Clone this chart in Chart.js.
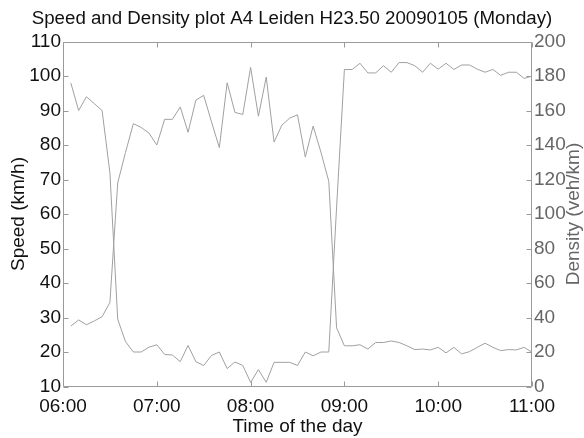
<!DOCTYPE html>
<html><head><meta charset="utf-8">
<style>html,body{margin:0;padding:0;background:#fff}#wrap{width:584px;height:438px;position:relative}</style>
<script src="https://cdn.jsdelivr.net/npm/chart.js@4/dist/chart.umd.min.js"></script>
</head><body><div id="wrap"><canvas id="c"></canvas></div>
<script>
const times = ["06:05","06:10","06:15","06:20","06:25","06:30","06:35","06:40","06:45","06:50","06:55",
"07:00","07:05","07:10","07:15","07:20","07:25","07:30","07:35","07:40","07:45","07:50","07:55",
"08:00","08:05","08:10","08:15","08:20","08:25","08:30","08:35","08:40","08:45","08:50","08:55",
"09:00","09:05","09:10","09:15","09:20","09:25","09:30","09:35","09:40","09:45","09:50","09:55",
"10:00","10:05","10:10","10:15","10:20","10:25","10:30","10:35","10:40","10:45","10:50","10:55",
"11:00"];
const speed = [98,90,94,92,90,72,29.5,23,20,20,21.4,
22.1,19.3,19.1,17.2,21.9,17.2,16.1,19,20,15.2,17.1,16.1,
11.2,14.9,11.2,17,17,17,16.1,20,18.9,20,20,62,
101.9,101.9,103.7,100.9,100.9,103,101.1,103.9,103.9,103,101.1,103.7,
102,103.7,101.9,103.2,103.2,102,101.1,101.9,100.2,101.1,101.1,99.3,
100];
const density = [35,38.6,35.8,38,40.5,48.7,118,135.8,152.4,150.2,146.9,
140,154.9,154.9,162.1,147.4,166,168.8,153.4,138.5,176.1,158.9,157.7,
185,156.7,179.4,141.7,151.5,155.6,157.5,133,151,135.8,119,34,
23.6,23.6,24.2,21.7,25.5,25.5,26.4,25.5,23.6,21.4,21.7,21.2,
22.7,19.5,22.7,18.9,20.2,22.7,25.1,22.7,20.8,21.4,21.2,22.7,
19.9];
const xTickLabels = ["06:00","07:00","08:00","09:00","10:00","11:00"];
const titleText = "Speed and Density plot A4 Leiden H23.50 20090105 (Monday)";
const speedLabel = "Speed (km/h)";
const densityLabel = "Density (veh/km)";
const xLabel = "Time of the day";

const toMin = t => { const p = t.split(':').map(Number); return (p[0]-6)*60 + p[1]; };
const speedPts = times.map((t,i) => ({x: toMin(t), y: speed[i]}));
const densityPts = times.map((t,i) => ({x: toMin(t), y: density[i]}));

const FONT = "'Liberation Sans', Arial, sans-serif";
Chart.defaults.font.family = FONT;
Chart.defaults.font.size = 19;

const framePlugin = {
  id: 'frame',
  afterDatasetsDraw(chart) {
    const {ctx, chartArea: {left, right, top, bottom}, scales: {x, y, y1}} = chart;
    const L = Math.round(left) + 0.5, R = Math.round(right) - 0.5, T = Math.round(top) + 0.5, B = Math.round(bottom) - 0.5;
    ctx.save();
    ctx.strokeStyle = '#9a9a9a';
    ctx.lineWidth = 1;
    ctx.beginPath();
    ctx.rect(L, T, R - L, B - T);
    const tl = 5;
    x.ticks.forEach(t => {
      const p = Math.round(x.getPixelForValue(t.value)) + 0.5;
      ctx.moveTo(p, B); ctx.lineTo(p, B - tl);
      ctx.moveTo(p, T); ctx.lineTo(p, T + tl);
    });
    y.ticks.forEach(t => {
      const p = Math.round(y.getPixelForValue(t.value)) + 0.5;
      ctx.moveTo(L, p); ctx.lineTo(L + tl, p);
    });
    y1.ticks.forEach(t => {
      const p = Math.round(y1.getPixelForValue(t.value)) + 0.5;
      ctx.moveTo(R, p); ctx.lineTo(R - tl, p);
    });
    ctx.stroke();
    // right axis title (reads bottom-to-top)
    ctx.fillStyle = '#666';
    ctx.font = '19px ' + FONT;
    ctx.textAlign = 'center';
    ctx.textBaseline = 'middle';
    ctx.translate(574, (top + bottom) / 2);
    ctx.rotate(-Math.PI / 2);
    ctx.fillText(densityLabel, 0, 0);
    ctx.restore();
  }
};

new Chart(document.getElementById('c'), {
  type: 'line',
  data: {
    datasets: [
      {label: 'Speed', data: speedPts, yAxisID: 'y', borderColor: '#a0a0a0', borderWidth: 1, pointRadius: 0, tension: 0, fill: false},
      {label: 'Density', data: densityPts, yAxisID: 'y1', borderColor: '#a0a0a0', borderWidth: 1, pointRadius: 0, tension: 0, fill: false}
    ]
  },
  options: {
    responsive: true,
    maintainAspectRatio: false,
    animation: false,
    layout: {padding: 0},
    plugins: {
      legend: {display: false},
      tooltip: {enabled: false},
      title: {display: true, text: titleText, color: '#111', font: {size: 18.7, weight: 'normal', family: FONT}, padding: {top: 7.8, bottom: 11.3}}
    },
    scales: {
      x: {
        type: 'linear', min: 0, max: 300,
        grid: {display: false, drawTicks: false}, border: {display: false},
        ticks: {stepSize: 60, color: '#111', padding: 9, maxRotation: 0, autoSkip: false,
          callback: v => xTickLabels[Math.round(v / 60)]},
        title: {display: true, text: xLabel, color: '#111', padding: {top: 0, bottom: 0}},
        afterFit: s => { s.height = 51.5; }
      },
      y: {
        type: 'linear', position: 'left', min: 10, max: 110,
        grid: {display: false, drawTicks: false}, border: {display: false},
        ticks: {stepSize: 10, color: '#111', padding: 2},
        title: {display: true, text: speedLabel, color: '#111', padding: {top: 7, bottom: 0}},
        afterFit: s => { s.width = 63; }
      },
      y1: {
        type: 'linear', position: 'right', min: 0, max: 200,
        grid: {display: false, drawTicks: false}, border: {display: false},
        ticks: {stepSize: 20, color: '#666', padding: 2},
        afterFit: s => { s.width = 52; }
      }
    }
  },
  plugins: [framePlugin]
});
</script>
</body></html>
